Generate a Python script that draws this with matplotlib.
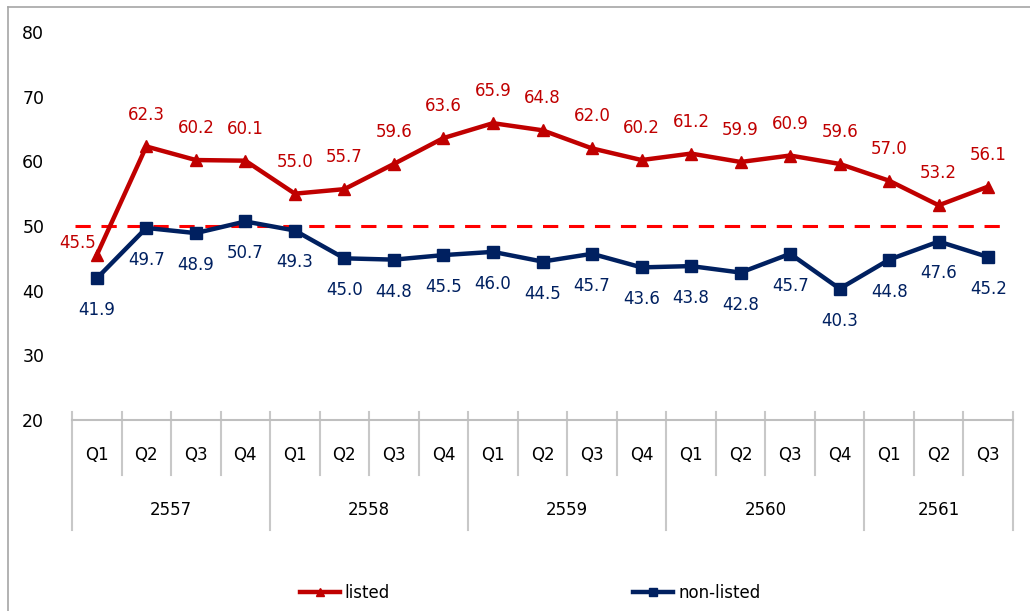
import matplotlib
matplotlib.use("Agg")
import matplotlib.pyplot as plt
import matplotlib.transforms as mtransforms
from matplotlib.lines import Line2D

quarters = ["Q1", "Q2", "Q3", "Q4", "Q1", "Q2", "Q3", "Q4", "Q1", "Q2", "Q3", "Q4",
            "Q1", "Q2", "Q3", "Q4", "Q1", "Q2", "Q3"]
years = ["2557", "2558", "2559", "2560", "2561"]
year_counts = [4, 4, 4, 4, 3]
listed = [45.5, 62.3, 60.2, 60.1, 55.0, 55.7, 59.6, 63.6, 65.9, 64.8, 62.0, 60.2,
          61.2, 59.9, 60.9, 59.6, 57.0, 53.2, 56.1]
non_listed = [41.9, 49.7, 48.9, 50.7, 49.3, 45.0, 44.8, 45.5, 46.0, 44.5, 45.7, 43.6,
              43.8, 42.8, 45.7, 40.3, 44.8, 47.6, 45.2]
threshold = 50

RED = "#C00000"
NAVY = "#002060"
W, H = 1030, 611

fig = plt.figure(figsize=(W / 100, H / 100), dpi=100)
ax = fig.add_axes([72 / W, 1 - 420 / H, (1013 - 72) / W, (420 - 32) / H])

x = list(range(len(quarters)))
ax.plot(x, listed, color=RED, lw=3.2, marker="^", ms=8, label="listed", zorder=3)
ax.plot(x, non_listed, color=NAVY, lw=3.2, marker="s", ms=8, label="non-listed", zorder=3)
ax.plot([-0.44, 18.3], [threshold, threshold], color="#FF0000", lw=2.2,
        dashes=(5, 3.5), zorder=2)

for i, v in enumerate(listed):
    off = (-14, 9) if i == 0 else (0, 23)
    ax.annotate(f"{v:.1f}", (i, v), xytext=off, textcoords="offset points",
                ha="center", va="center", color=RED, fontsize=12)
for i, v in enumerate(non_listed):
    ax.annotate(f"{v:.1f}", (i, v), xytext=(0, -23), textcoords="offset points",
                ha="center", va="center", color=NAVY, fontsize=12)

ax.set_xlim(-0.5, len(quarters) - 0.5)
ax.set_ylim(20, 80)
ax.set_yticks([20, 30, 40, 50, 60, 70, 80])
ax.tick_params(axis="y", length=0, pad=20, labelsize=12.5)
ax.set_xticks([])
for s in ["left", "right", "top"]:
    ax.spines[s].set_visible(False)
ax.spines["bottom"].set_color("#BFBFBF")
ax.spines["bottom"].set_linewidth(1.5)

trans = mtransforms.blended_transform_factory(ax.transData, fig.transFigure)
sep_col = "#C8C8C8"
y_top = 1 - 412 / H
y_q = 1 - 475 / H
y_y = 1 - 530 / H
boundaries = [-0.5]
acc = -0.5
for c in year_counts:
    acc += c
    boundaries.append(acc)
for i in range(len(quarters) + 1):
    xb = i - 0.5
    yb = y_y if xb in boundaries else y_q
    ax.add_line(Line2D([xb, xb], [y_top, yb], transform=trans, color=sep_col,
                       lw=1.5, clip_on=False))
for i, q in enumerate(quarters):
    ax.text(i, 1 - 455 / H, q, transform=trans, ha="center", va="center", fontsize=12)
start = 0
for yr, c in zip(years, year_counts):
    ax.text(start + (c - 1) / 2, 1 - 510 / H, yr, transform=trans, ha="center",
            va="center", fontsize=12)
    start += c

fig.legend(loc="center", bbox_to_anchor=(530 / W, 1 - 593 / H), ncol=2, frameon=False,
           fontsize=12, handlelength=2.4, handletextpad=0.3, columnspacing=14.6,
           markerscale=0.8)

# outer frame
fig.add_artist(Line2D([8 / W, 8 / W], [0, 1 - 7 / H], transform=fig.transFigure,
                      color="#A6A6A6", lw=1.2))
fig.add_artist(Line2D([8 / W, 1], [1 - 7 / H, 1 - 7 / H], transform=fig.transFigure,
                      color="#A6A6A6", lw=1.2))

fig.savefig("out.png", dpi=100)
